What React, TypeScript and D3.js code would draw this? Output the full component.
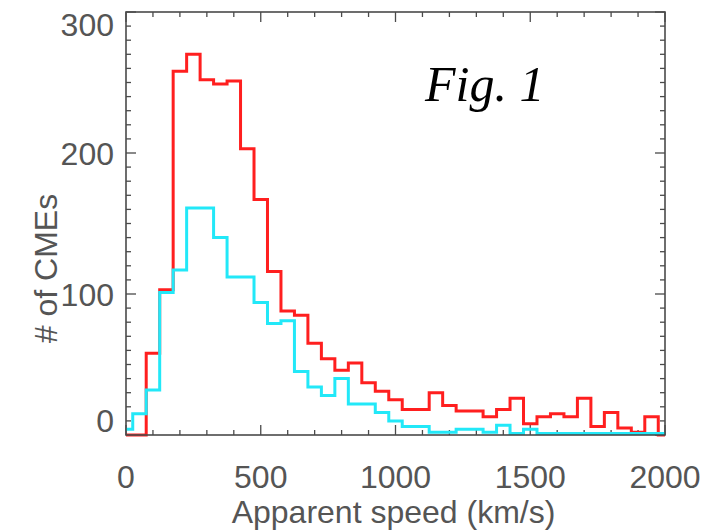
import React from "react";
import * as d3 from "d3";

const speeds = [0, 50, 100, 150, 200, 250, 300, 350, 400, 450, 500, 550, 600, 650, 700, 750, 800, 850, 900, 950, 1000, 1050, 1100, 1150, 1200, 1250, 1300, 1350, 1400, 1450, 1500, 1550, 1600, 1650, 1700, 1750, 1800, 1850, 1900, 1950, 2000];
const redCounts = [0, 0, 58, 103, 258, 270, 252, 249, 251, 203, 167, 116, 88, 85, 65, 54, 46, 51, 37, 31, 25, 18, 18, 30, 21, 17, 17, 13, 18, 26, 8, 13, 15, 13, 26, 6, 16, 5, 2, 13, 0];
const cyanCounts = [4, 15, 32, 101, 117, 161, 161, 140, 112, 112, 94, 79, 81, 45, 34, 28, 40, 22, 22, 16, 10, 6, 6, 2, 2, 4, 4, 2, 7, 1, 4, 1, 1, 1, 1, 1, 1, 1, 1, 1, 1];
const xMajorTicks = [0, 500, 1000, 1500, 2000];
const yMajorTicks = [0, 100, 200, 300];

const W = 703;
const H = 531;
const left = 126, right = 665, top = 12, bottom = 435;

export default function App() {
  const x = d3.scaleLinear().domain([0, 2000]).range([left, right]);
  const y = d3.scaleLinear().domain([0, 300]).range([bottom, top]);
  const xMinor = d3.range(0, 2001, 100);
  const yMinor = d3.range(0, 301, 10);

  const line = d3
    .line<number>()
    .x((_, i) => x(speeds[i]))
    .y((d) => y(d))
    .curve(d3.curveStep);

  const axisColor = "#4a4a4a";
  const textColor = "#555555";
  const font = "'Liberation Sans', Arial, sans-serif";
  const yLabelPos = (v: number) => Math.min(Math.max(y(v), 24), 420);

  return (
    <svg width={W} height={H} style={{ position: "absolute", left: 0, top: 0, background: "#fff" }}>
      <rect x={0} y={0} width={W} height={H} fill="#fff" />
      {xMinor.map((v) => {
        const len = v % 500 === 0 ? 10 : 5;
        return (
          <g key={"xt" + v} stroke={axisColor} strokeWidth={1.3}>
            <line x1={x(v)} x2={x(v)} y1={bottom} y2={bottom - len} />
            <line x1={x(v)} x2={x(v)} y1={top} y2={top + len} />
          </g>
        );
      })}
      {yMinor.map((v) => {
        const len = v % 100 === 0 ? 10 : 5;
        return (
          <g key={"yt" + v} stroke={axisColor} strokeWidth={1.3}>
            <line x1={left} x2={left + len} y1={y(v)} y2={y(v)} />
            <line x1={right} x2={right - len} y1={y(v)} y2={y(v)} />
          </g>
        );
      })}
      <path d={line(redCounts) || ""} fill="none" stroke="#ff1f1f" strokeWidth={3} />
      <path d={line(cyanCounts) || ""} fill="none" stroke="#22e8f8" strokeWidth={3} />
      <rect x={left} y={top} width={right - left} height={bottom - top} fill="none" stroke={axisColor} strokeWidth={1.6} />
      {xMajorTicks.map((v) => (
        <text key={"xl" + v} x={x(v)} y={488} textAnchor="middle" fontFamily={font} fontSize={32} fill={textColor}>
          {v}
        </text>
      ))}
      {yMajorTicks.map((v) => (
        <text key={"yl" + v} x={114} y={yLabelPos(v)} dy="0.36em" textAnchor="end" fontFamily={font} fontSize={32} fill={textColor}>
          {v}
        </text>
      ))}
      <text x={(left + right) / 2 - 2} y={523} textAnchor="middle" fontFamily={font} fontSize={32} fill={textColor}>
        Apparent speed (km/s)
      </text>
      <text transform={`translate(57,${(top + bottom) / 2 + 45}) rotate(-90)`} textAnchor="middle" fontFamily={font} fontSize={32} fill={textColor}>
        # of CMEs
      </text>
      <text x={425} y={101} fontFamily="'Liberation Serif', 'DejaVu Serif', serif" fontStyle="italic" fontSize={50} fill="#000">
        Fig. 1
      </text>
    </svg>
  );
}
